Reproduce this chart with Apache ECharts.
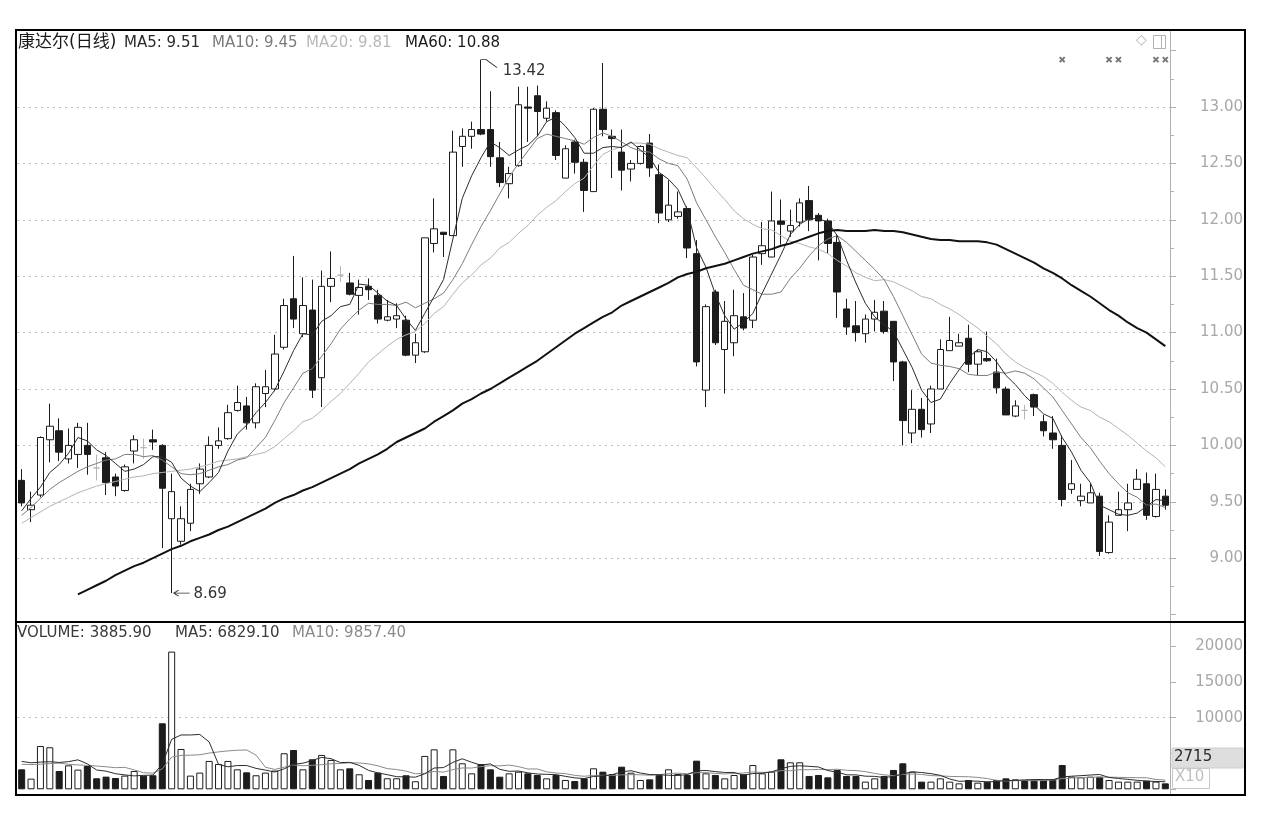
<!DOCTYPE html>
<html>
<head>
<meta charset="utf-8">
<script src="https://cdn.jsdelivr.net/npm/echarts@6.0.0/dist/echarts.min.js"></script>
<style>
html,body{margin:0;padding:0;background:#fff;}
#c{width:1264px;height:834px;}
</style>
</head>
<body>
<div id="c"></div>
<script>
// 康达尔 daily bars: open / close / low / high
const opens = [9.69,9.43,9.56,10.05,10.13,9.88,9.92,10.00,9.80,9.89,9.72,9.60,9.95,9.98,10.05,10.00,9.35,9.15,9.31,9.66,
9.72,10.00,10.06,10.31,10.35,10.20,10.46,10.50,10.87,11.30,10.99,11.20,10.60,11.41,11.51,11.44,11.33,11.41,11.33,11.11,
11.12,11.11,10.80,10.83,11.79,11.89,11.86,12.65,12.74,12.80,12.80,12.55,12.32,12.48,13.00,13.10,12.90,12.95,12.37,12.69,
12.51,12.25,12.98,12.74,12.60,12.45,12.50,12.68,12.40,12.00,12.03,12.10,11.70,10.49,11.36,10.85,10.91,11.14,11.11,11.70,
11.67,11.99,11.90,11.98,12.17,12.04,11.99,11.80,11.21,11.06,10.99,11.12,11.19,11.10,10.74,10.11,10.32,10.19,10.50,10.84,
10.88,10.95,10.72,10.77,10.65,10.50,10.26,10.31,10.45,10.21,10.11,10.00,9.61,9.51,9.49,9.55,9.05,9.38,9.43,9.61,
9.66,9.37,9.55];
const closes = [9.49,9.47,10.07,10.17,9.94,10.00,10.16,9.92,9.80,9.67,9.64,9.81,10.05,9.98,10.03,9.62,9.59,9.35,9.61,9.79,
10.00,10.04,10.29,10.38,10.20,10.52,10.52,10.81,11.24,11.12,11.24,10.49,11.41,11.48,11.51,11.34,11.40,11.38,11.12,11.14,
11.15,10.80,10.91,11.84,11.92,11.87,12.60,12.74,12.80,12.76,12.56,12.33,12.41,13.02,12.99,12.96,12.99,12.57,12.63,12.51,
12.26,12.98,12.80,12.72,12.44,12.50,12.65,12.46,12.06,12.13,12.07,11.75,10.74,11.23,10.91,11.10,11.15,11.04,11.67,11.77,
11.99,11.96,11.95,12.15,12.00,11.99,11.79,11.36,11.05,11.00,11.12,11.18,11.01,10.74,10.22,10.32,10.14,10.50,10.85,10.93,
10.91,10.72,10.83,10.75,10.51,10.27,10.35,10.31,10.34,10.13,10.05,9.52,9.66,9.55,9.58,9.06,9.32,9.43,9.49,9.70,
9.38,9.61,9.47];
const lows = [9.46,9.32,9.54,9.85,9.86,9.84,9.80,9.74,9.69,9.56,9.55,9.59,9.84,9.88,9.96,9.09,8.69,9.12,9.24,9.57,
9.71,9.97,10.05,10.30,10.14,10.15,10.34,10.48,10.85,11.04,10.96,10.42,10.34,11.27,11.45,11.33,11.16,11.29,11.08,11.10,
11.04,10.79,10.73,10.82,11.71,11.67,11.86,12.47,12.63,12.75,12.47,12.29,12.19,12.47,12.69,12.74,12.87,12.53,12.37,12.41,
12.07,12.25,12.74,12.37,12.26,12.34,12.49,12.38,11.97,11.98,12.01,11.66,10.70,10.34,10.89,10.46,10.79,11.02,11.04,11.60,
11.67,11.78,11.85,11.94,11.90,11.64,11.70,11.13,10.98,10.92,10.91,11.01,10.99,10.57,10.00,10.02,10.07,10.11,10.50,10.84,
10.88,10.65,10.62,10.74,10.46,10.27,10.25,10.23,10.26,10.08,9.97,9.46,9.57,9.46,9.49,9.02,9.04,9.38,9.24,9.61,
9.34,9.36,9.43];
const highs = [9.79,9.59,10.08,10.37,10.24,10.15,10.20,10.20,9.92,9.94,9.75,9.83,10.09,10.06,10.14,10.01,9.75,9.46,9.66,9.84,
10.08,10.16,10.36,10.53,10.43,10.55,10.67,10.98,11.30,11.68,11.49,11.47,11.55,11.72,11.59,11.53,11.47,11.48,11.38,11.29,
11.26,11.15,10.99,11.84,12.19,11.89,12.79,12.81,12.87,13.42,13.14,12.69,12.47,13.18,13.18,13.19,13.05,12.97,12.66,12.71,
12.54,12.99,13.39,12.80,12.80,12.53,12.66,12.76,12.49,12.35,12.25,12.12,11.82,11.25,11.38,11.28,11.38,11.35,11.69,11.98,
12.25,12.18,12.09,12.19,12.30,12.06,12.01,11.87,11.30,11.28,11.16,11.29,11.28,11.10,10.75,10.49,10.42,10.53,10.94,11.14,
10.99,11.07,10.85,11.01,10.77,10.52,10.40,10.36,10.46,10.27,10.26,10.09,9.87,9.66,9.66,9.58,9.38,9.59,9.66,9.79,
9.76,9.75,9.61];
// days that closed flat, drawn as grey crosses
const flatDays = [8,13,34,107];

// moving averages of the close
const ma5 = [9.42,9.53,9.63,9.76,9.83,9.93,10.07,10.04,9.96,9.91,9.84,9.77,9.79,9.83,9.90,9.90,9.85,9.71,9.64,9.59,
9.67,9.76,9.95,10.10,10.18,10.29,10.38,10.49,10.66,10.84,10.99,10.98,11.10,11.15,11.23,11.25,11.43,11.42,11.35,11.28,
11.24,11.12,11.02,11.17,11.32,11.47,11.83,12.19,12.39,12.55,12.69,12.64,12.57,12.62,12.66,12.74,12.87,12.91,12.83,12.73,
12.59,12.59,12.64,12.65,12.64,12.69,12.62,12.55,12.42,12.36,12.27,12.09,11.75,11.58,11.34,11.15,11.03,11.09,11.17,11.35,
11.52,11.69,11.87,11.96,12.01,12.01,11.98,11.86,11.64,11.44,11.26,11.14,11.07,11.01,10.85,10.69,10.49,10.38,10.41,10.55,
10.67,10.78,10.85,10.83,10.74,10.62,10.54,10.44,10.36,10.28,10.24,10.07,9.94,9.78,9.67,9.47,9.43,9.39,9.38,9.40,
9.46,9.52,9.51];
const ma10 = [9.38,9.45,9.53,9.61,9.67,9.72,9.77,9.81,9.84,9.87,9.88,9.92,9.92,9.90,9.91,9.87,9.81,9.75,9.74,9.75,
9.78,9.81,9.83,9.87,9.89,9.98,10.07,10.22,10.38,10.51,10.64,10.68,10.79,10.90,11.03,11.12,11.20,11.26,11.25,11.25,
11.24,11.27,11.22,11.26,11.30,11.35,11.47,11.61,11.78,11.94,12.08,12.23,12.38,12.50,12.61,12.72,12.76,12.74,12.72,12.70,
12.67,12.73,12.77,12.74,12.69,12.64,12.61,12.60,12.54,12.50,12.48,12.36,12.15,12.00,11.85,11.71,11.56,11.42,11.38,11.34,
11.34,11.36,11.48,11.57,11.68,11.77,11.83,11.86,11.80,11.72,11.64,11.56,11.47,11.32,11.15,10.98,10.81,10.73,10.71,10.70,
10.68,10.63,10.62,10.62,10.65,10.64,10.66,10.64,10.59,10.51,10.43,10.31,10.19,10.07,9.98,9.86,9.75,9.66,9.58,9.54,
9.47,9.48,9.45];
const ma20 = [9.31,9.36,9.41,9.46,9.50,9.54,9.58,9.61,9.64,9.66,9.68,9.70,9.72,9.73,9.75,9.76,9.77,9.78,9.79,9.81,
9.83,9.86,9.87,9.88,9.90,9.92,9.94,9.99,10.06,10.13,10.21,10.24,10.31,10.39,10.46,10.55,10.64,10.74,10.81,10.88,
10.94,10.98,11.01,11.08,11.17,11.23,11.34,11.44,11.51,11.60,11.66,11.75,11.80,11.88,11.95,12.04,12.11,12.17,12.25,12.32,
12.37,12.48,12.58,12.62,12.65,12.68,12.68,12.67,12.63,12.60,12.57,12.55,12.46,12.37,12.27,12.18,12.08,12.01,11.96,11.92,
11.91,11.86,11.81,11.79,11.76,11.74,11.70,11.64,11.59,11.53,11.49,11.46,11.47,11.45,11.41,11.37,11.32,11.30,11.25,11.21,
11.16,11.10,11.04,10.97,10.90,10.81,10.74,10.69,10.65,10.61,10.55,10.47,10.40,10.34,10.31,10.25,10.21,10.15,10.09,10.02,
9.95,9.89,9.81];
const ma60 = ['-','-','-','-','-','-',8.68,8.72,8.76,8.80,8.85,8.89,8.93,8.96,9.00,9.04,9.08,9.11,9.15,9.18,
9.21,9.25,9.28,9.32,9.36,9.40,9.44,9.49,9.53,9.56,9.60,9.63,9.67,9.71,9.75,9.79,9.84,9.88,9.92,9.97,
10.03,10.07,10.11,10.15,10.21,10.26,10.31,10.37,10.41,10.46,10.50,10.55,10.60,10.65,10.70,10.75,10.81,10.87,10.93,10.99,
11.04,11.09,11.14,11.18,11.24,11.28,11.32,11.36,11.40,11.44,11.49,11.52,11.54,11.57,11.59,11.61,11.64,11.67,11.70,11.72,
11.74,11.77,11.79,11.82,11.85,11.88,11.90,11.91,11.90,11.90,11.90,11.91,11.90,11.90,11.89,11.87,11.85,11.83,11.82,11.82,
11.81,11.81,11.81,11.80,11.78,11.74,11.70,11.66,11.62,11.57,11.53,11.48,11.42,11.37,11.32,11.26,11.20,11.15,11.09,11.04,
11.00,10.94,10.88];

// daily volume
const volumes = [2790,1490,6050,5870,2560,3350,2750,3260,1540,1770,1580,1910,2560,1910,1960,9220,19230,5630,1910,2330,
3960,3540,3960,2790,2370,1960,2330,2610,5030,5490,2790,4190,4800,4100,2790,2930,2100,1300,2330,1540,
1540,1960,1120,4660,5580,1860,5580,3630,2230,3530,2790,1760,2230,2460,2230,2000,1530,2000,1300,1160,
1530,2930,2460,2130,3160,2320,1300,1390,2000,2790,2130,2000,4000,2230,2000,1530,2000,2090,3390,2230,
2460,4190,3770,3770,1860,2000,1670,2700,1860,1860,1070,1530,1860,2700,3630,2460,1070,1070,1530,1070,
830,1300,930,1070,1300,1530,1390,1300,1300,1300,1390,3390,1760,1670,1760,1760,1300,1070,1070,1070,
1210,1070,830];
// moving averages of the volume
const volMa5 = [3900,3700,3800,3850,3752,3864,4116,3558,2692,2534,2180,2012,1872,1946,1984,3512,6976,7590,7590,7664,
6612,3474,3140,3316,3324,2924,2682,2412,2860,3484,3650,4022,4460,4274,3734,3762,3344,2644,2290,2040,
1762,1734,1698,2164,2972,3036,3760,4262,3776,3366,3552,2788,2508,2554,2294,2136,2090,2044,1812,1598,
1504,1784,1876,2042,2442,2600,2274,2060,2034,1960,1922,2062,2584,2630,2472,2352,2352,1970,2202,2248,
2434,2872,3208,3284,3210,3118,2614,2400,2018,2018,1832,1804,1636,1804,2158,2436,2344,2186,1952,1440,
1114,1160,1132,1040,1086,1226,1244,1318,1364,1364,1336,1736,1828,1902,1994,2068,1650,1512,1392,1254,
1144,1098,1050];
const volMa10 = [3500,3450,3500,3600,3650,3500,3400,3350,3250,3143,3022,3064,2715,2319,2259,2846,4494,4731,4768,4824,
5062,5225,5365,5453,5494,4768,3078,2776,3088,3404,3287,3352,3436,3567,3609,3706,3683,3552,3282,2887,
2762,2539,2171,2227,2506,2399,2747,2980,2970,3169,3294,3274,3385,3165,2830,2844,2439,2276,2183,1946,
1820,1937,1960,1927,2020,2052,2029,1968,2038,2201,2261,2168,2322,2332,2216,2137,2207,2277,2416,2360,
2393,2612,2589,2743,2729,2776,2743,2804,2651,2614,2475,2209,2018,1911,2088,2134,2074,1911,1878,1799,
1775,1752,1659,1496,1263,1170,1202,1225,1202,1225,1281,1490,1573,1633,1679,1702,1693,1670,1647,1624,
1606,1374,1281];

// event flags along the top row
const eventDays = [111,116,117,121,122];
const eventRow = 13.42;

// header texts
const priceHeader = [
  {text:'康达尔(日线)', x:18, color:'#1a1a1a', size:17},
  {text:'MA5: 9.51', x:124, color:'#2a2a2a', size:15},
  {text:'MA10: 9.45', x:212, color:'#7a7a7a', size:15},
  {text:'MA20: 9.81', x:306, color:'#b8b8b8', size:15},
  {text:'MA60: 10.88', x:405, color:'#1a1a1a', size:15}
];
const volumeHeader = [
  {text:'VOLUME: 3885.90', x:17, color:'#3a3a3a'},
  {text:'MA5: 6829.10', x:175, color:'#3a3a3a'},
  {text:'MA10: 9857.40', x:292, color:'#8a8a8a'}
];

const FONT = "'DejaVu Sans','Noto Sans CJK SC',sans-serif";
const days = closes.map((_, i) => String(i));
const isUp = i => closes[i] > opens[i] || (closes[i] === opens[i] && (i === 0 || closes[i] >= closes[i - 1]));

const grey = '#b5b5b5';
const ink = '#1c1c1c';
const candleData = days.map((_, i) => {
  const item = {value: [opens[i], closes[i], lows[i], highs[i]]};
  if (flatDays.includes(i)) {
    item.itemStyle = {color: grey, color0: grey, borderColor: grey, borderColor0: grey};
  }
  return item;
});
const volumeData = volumes.map((v, i) => ({
  value: v,
  itemStyle: isUp(i)
    ? {color: '#fff', borderColor: ink, borderWidth: 1}
    : {color: ink, borderColor: ink, borderWidth: 1}
}));

const T = 'rgba(0,0,0,0)';
const G = '#bdbdbd';
const axisText = {color: '#a8a8a8', fontSize: 15, fontFamily: FONT, align: 'right', margin: 73};

const chart = echarts.init(document.getElementById('c'));

const graphics = [];
priceHeader.forEach(h => graphics.push({type:'text', left:h.x, top: h.size > 15 ? 34 : 36, z:50,
  style:{text:h.text, fill:h.color, font: h.size + 'px ' + FONT}}));
volumeHeader.forEach(h => graphics.push({type:'text', left:h.x, top:626, z:50,
  style:{text:h.text, fill:h.color, font:'15px ' + FONT}}));
graphics.push(
  {type:'line', z:40, shape:{x1:1170.5, y1:30, x2:1170.5, y2:795}, style:{stroke:'#b0b0b0', lineWidth:1}},
  {type:'line', z:60, shape:{x1:15, y1:622, x2:1245, y2:622}, style:{stroke:'#000', lineWidth:2}},
  {type:'rect', z:60, shape:{x:16, y:30, width:1229, height:765}, style:{fill:'none', stroke:'#000', lineWidth:2}},
  {type:'text', left:1136, top:33, z:50, style:{text:'◇', fill:'#b0b0b0', font:'14px ' + FONT}},
  {type:'rect', z:50, shape:{x:1153.5, y:35.5, width:12, height:13}, style:{fill:'none', stroke:'#b0b0b0', lineWidth:1}},
  {type:'line', z:50, shape:{x1:1161.5, y1:35.5, x2:1161.5, y2:48.5}, style:{stroke:'#b0b0b0', lineWidth:1}},
  {type:'rect', z:50, shape:{x:1172, y:748, width:71, height:20}, style:{fill:'#dedede', stroke:'#cfcfcf', lineWidth:1}},
  {type:'text', left:1174, top:750, z:51, style:{text:'2715', fill:'#2a2a2a', font:'15px ' + FONT}},
  {type:'rect', z:50, shape:{x:1172.5, y:768.5, width:37, height:20}, style:{fill:'#fff', stroke:'#c8c8c8', lineWidth:1}},
  {type:'text', left:1175, top:770, z:51, style:{text:'X10', fill:'#c0c0c0', font:'15px ' + FONT}}
);

const line = (name, data, color, width, z, grid) => ({
  name, type:'line', xAxisIndex:grid, yAxisIndex:grid, data, symbol:'none', smooth:false, z,
  lineStyle:{color, width}, silent:true, animation:false
});

chart.setOption({
  animation: false,
  backgroundColor: '#fff',
  grid: [
    {left:17, right:94, top:50.6, bottom:219.4},
    {left:17, right:94, top:623, bottom:44.7}
  ],
  xAxis: [
    {type:'category', gridIndex:0, data:days, boundaryGap:true,
     axisLine:{show:false}, axisTick:{show:false}, axisLabel:{show:false}, splitLine:{show:false}},
    {type:'category', gridIndex:1, data:days, boundaryGap:true,
     axisLine:{show:false}, axisTick:{show:false}, axisLabel:{show:false}, splitLine:{show:false}}
  ],
  yAxis: [
    {type:'value', gridIndex:0, position:'right', min:8.5, max:13.5, interval:0.5, scale:true,
     axisLine:{show:false},
     axisTick:{show:true, length:6, lineStyle:{color:'#b0b0b0'}},
     minorTick:{show:true, splitNumber:2, length:4, lineStyle:{color:'#b0b0b0'}},
     axisLabel:Object.assign({}, axisText, {
       formatter: v => (v < 8.75 || v > 13.25) ? '' : v.toFixed(2)
     }),
     splitLine:{show:true, showMinLine:true, showMaxLine:true,
       lineStyle:{color:[T,G,G,G,G,G,G,G,G,G,T], type:[2,4], width:1}}
    },
    {type:'value', gridIndex:1, position:'right', min:0, max:23226, interval:5000,
     axisLine:{show:false},
     axisTick:{show:true, length:6, lineStyle:{color:'#b0b0b0'}},
     axisLabel:Object.assign({}, axisText, {
       showMaxLabel:false,
       formatter: v => (v >= 10000 && v <= 20000) ? String(v) : ''
     }),
     splitLine:{show:true, showMinLine:true, showMaxLine:true,
       lineStyle:{color:[T,T,G,T,T,T], type:[2,4], width:1}}
    }
  ],
  series: [
    {
      name:'日线', type:'candlestick', xAxisIndex:0, yAxisIndex:0, data:candleData, barWidth:7, z:3,
      itemStyle:{color:'#fff', color0:ink, borderColor:ink, borderColor0:ink, borderWidth:1},
      markPoint:{
        silent:true, animation:false,
        data:[
          {coord:[49, highs[49]], value:highs[49],
           symbol:'path://M0 0 L5 0 L16 8', symbolSize:[16, 8], symbolOffset:[8, 4], symbolKeepAspect:false,
           itemStyle:{color:'rgba(0,0,0,0)', borderColor:'#333', borderWidth:1},
           label:{show:true, position:'right', distance:5, offset:[0, 7], formatter: p => p.value.toFixed(2),
                  color:'#333', fontSize:15, fontFamily:FONT}},
          {coord:[16, lows[16]], value:lows[16],
           symbol:'path://M0 4 L16 4 M0 4 L5 1 M0 4 L5 7', symbolSize:[16, 6], symbolOffset:[10, 0], symbolKeepAspect:false,
           itemStyle:{color:'rgba(0,0,0,0)', borderColor:'#333', borderWidth:1},
           label:{show:true, position:'right', distance:3, offset:[0, 1], formatter: p => p.value.toFixed(2),
                  color:'#333', fontSize:15, fontFamily:FONT}}
        ]
      }
    },
    line('MA60', ma60, '#111', 2, 6, 0),
    line('MA20', ma20, '#b4b4b4', 1, 5, 0),
    line('MA10', ma10, '#7c7c7c', 1, 5, 0),
    line('MA5', ma5, '#2c2c2c', 1, 5, 0),
    {
      name:'events', type:'scatter', xAxisIndex:0, yAxisIndex:0, z:7, silent:true,
      data: eventDays.map(d => [String(d), eventRow]),
      symbol:'path://M0 0 L6 6 M6 0 L0 6', symbolSize:5,
      itemStyle:{color:'rgba(0,0,0,0)', borderColor:'#555', borderWidth:2}
    },
    {
      name:'VOLUME', type:'bar', xAxisIndex:1, yAxisIndex:1, data:volumeData, barWidth:7, z:3
    },
    line('VOL MA10', volMa10, '#8a8a8a', 1, 5, 1),
    line('VOL MA5', volMa5, '#2c2c2c', 1, 5, 1)
  ],
  graphic: graphics
});
</script>
</body>
</html>
